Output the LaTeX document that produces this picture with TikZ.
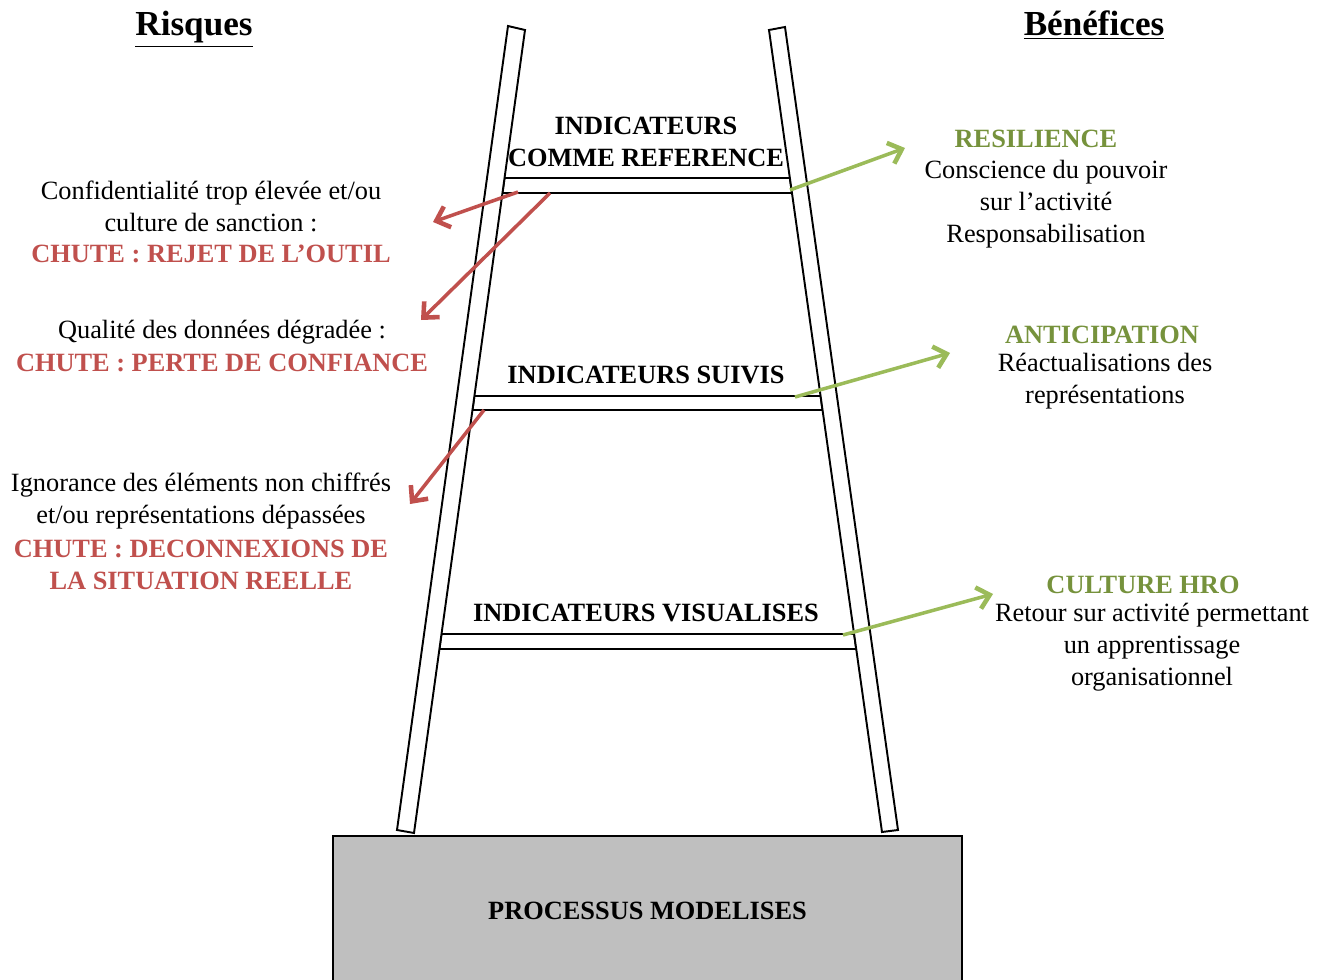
\documentclass[tikz,border=0pt]{standalone}
\usepackage{fontspec}
\setmainfont{Liberation Serif}
\usetikzlibrary{arrows.meta}
\definecolor{redc}{HTML}{C0504D}
\definecolor{greenarrow}{HTML}{9BBB59}
\definecolor{greentext}{HTML}{76923C}
\definecolor{basegray}{HTML}{BFBFBF}
\begin{document}
\begin{tikzpicture}[x=0.02cm,y=-0.02cm,
  txt/.style={inner sep=0pt, align=center, font=\fontsize{15}{18.3}\selectfont},
  boldtxt/.style={inner sep=0pt, align=center, font=\fontsize{15}{18}\selectfont\bfseries},
  redtxt/.style={boldtxt, text=redc},
  greentxt/.style={boldtxt, text=greentext},
  header/.style={inner sep=0pt, anchor=base, font=\fontsize{20}{24}\selectfont\bfseries},
  rail/.style={draw=black, fill=white, line width=1.1pt, line join=miter},
  rung/.style={draw=black, fill=white, line width=1.1pt},
  basebox/.style={draw=black, fill=basegray, line width=1.1pt, minimum width=12.58cm, minimum height=3.0cm, inner sep=0pt, font=\fontsize{15}{18}\selectfont\bfseries},
  tip/.style={-{Straight Barb[length=2.4mm,width=4.4mm,line width=2.6pt]}},
  riskarrow/.style={draw=redc, line width=2pt, tip},
  gainarrow/.style={draw=greenarrow, line width=2pt, tip}
]
\useasboundingbox (0,0) rectangle (1330,980);

% base
\node[basebox, anchor=north] (base) at (647.5,835) {PROCESSUS MODELISES};

% rungs
\draw[rung] (504.5,178) -- (789.9,178) -- (792,193) -- (502.5,193) -- cycle;
\draw[rung] (474.4,396) -- (820.6,396) -- (822.5,410) -- (472.5,410) -- cycle;
\draw[rung] (441.5,634) -- (854.1,634) -- (856.2,649) -- (439.4,649) -- cycle;

% rails
\draw[rail] (508,26) -- (525,30) -- (414,833) -- (397,830) -- cycle;
\draw[rail] (769,30) -- (785,27) -- (898,830) -- (882,832) -- cycle;

% headers
\node[header] (risques) at (194,36) {\underline{Risques}};
\node[header] (benefices) at (1094,36) {\underline{Bénéfices}};

% rung labels
\node[boldtxt] (lvl3) at (646,142) {INDICATEURS\\COMME REFERENCE};
\node[boldtxt] (lvl2) at (646,375) {INDICATEURS SUIVIS};
\node[boldtxt] (lvl1) at (646,613) {INDICATEURS VISUALISES};

% risks
\node[txt] (risk1) at (211,206) {Confidentialité trop élevée et/ou\\culture de sanction :};
\node[redtxt] (chute1) at (211,254) {CHUTE : REJET DE L’OUTIL};
\node[txt] (risk2) at (222,332) {Qualité des données dégradée :};
\node[redtxt] (chute2) at (222,363) {CHUTE : PERTE DE CONFIANCE};
\node[txt] (risk3) at (201,501) {Ignorance des éléments non chiffrés\\et/ou représentations dépassées};
\node[redtxt] (chute3) at (201,565) {CHUTE : DECONNEXIONS DE\\LA SITUATION REELLE};

% benefits
\node[greentxt] (res) at (1036,139) {RESILIENCE};
\node[txt] (resb) at (1046,204) {Conscience du pouvoir\\sur l’activité\\Responsabilisation};
\node[greentxt] (anti) at (1102,335) {ANTICIPATION};
\node[txt] (antib) at (1105,381) {Réactualisations des\\représentations};
\node[greentxt] (hro) at (1143,585) {CULTURE HRO};
\node[txt] (hrob) at (1152,647) {Retour sur activité permettant\\un apprentissage\\organisationnel};

% arrow ends
\coordinate (r1s) at (518,192);
\coordinate (r1e) at (433,222);
\coordinate (r2s) at (550,193);
\coordinate (r2e) at (421,320);
\coordinate (r3s) at (484,410);
\coordinate (r3e) at (410,504);
\coordinate (g1s) at (790,190);
\coordinate (g1e) at (905,148);
\coordinate (g2s) at (795,397);
\coordinate (g2e) at (950,353);
\coordinate (g3s) at (843,635);
\coordinate (g3e) at (993,594);

\draw[riskarrow] (r1s) -- (r1e);
\draw[riskarrow] (r2s) -- (r2e);
\draw[riskarrow] (r3s) -- (r3e);
\draw[gainarrow] (g1s) -- (g1e);
\draw[gainarrow] (g2s) -- (g2e);
\draw[gainarrow] (g3s) -- (g3e);
\end{tikzpicture}
\end{document}
